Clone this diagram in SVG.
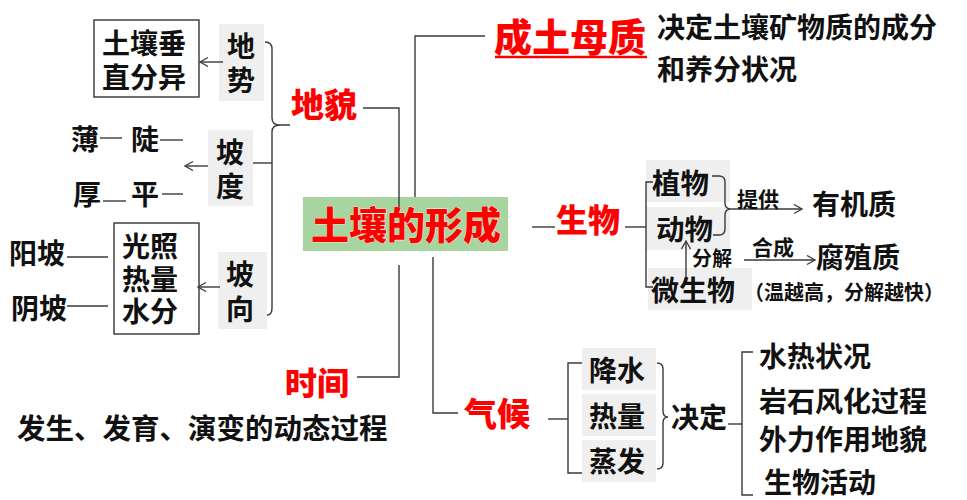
<svg xmlns="http://www.w3.org/2000/svg" width="967" height="500" viewBox="0 0 967 500">
<style>
text{font-family:"Noto Sans CJK SC","Noto Sans CJK JP",sans-serif;font-weight:700;fill:#111}
.r{fill:#ff0000;font-weight:900;stroke:#fff;stroke-width:0.6;paint-order:stroke}
.g{fill:#efefef}
.b{fill:#fff;stroke:#333;stroke-width:1.4}
.c path{fill:none;stroke:#3a3a3a;stroke-width:1.4}
.a{marker-end:url(#arr)}
</style>
<defs>
<marker id="arr" markerUnits="userSpaceOnUse" markerWidth="12" markerHeight="12" refX="9" refY="5" orient="auto">
<path d="M1,0.5 L9,5 L1,9.5" fill="none" stroke="#3a3a3a" stroke-width="1.3"/>
</marker>
</defs>
<rect width="967" height="500" fill="#fff"/>

<g id="root">
<rect x="303" y="197" width="205" height="54" fill="#a8d4a0"/>
<text class="r" x="311" y="239" font-size="38">土壤的形成</text>
</g>

<g id="chengtumuzhi">
<text class="r" x="494" y="51" font-size="38">成土母质</text>
<line x1="495" y1="57" x2="647" y2="57" stroke="#ff0000" stroke-width="2.5"/>
<text x="657" y="38.4" font-size="28">决定土壤矿物质的成分<tspan x="657" dy="42">和养分状况</tspan></text>
</g>

<g id="dimao">
<text class="r" x="291" y="117" font-size="33">地貌</text>
</g>
<g id="dishi">
<rect class="g" x="219" y="24" width="45" height="77"/>
<text x="227" y="57.4" font-size="28">地<tspan x="227" dy="34">势</tspan></text>
</g>
<g id="chuizhi">
<rect class="b" x="94" y="20" width="105" height="77"/>
<text x="102" y="54.4" font-size="28">土壤垂<tspan x="102" dy="34">直分异</tspan></text>
</g>
<g id="podu">
<rect class="g" x="208" y="130" width="45" height="76"/>
<text x="216" y="163.4" font-size="28">坡<tspan x="216" dy="34">度</tspan></text>
</g>
<g id="podu-items">
<text x="71" y="150.4" font-size="28">薄</text>
<text x="131" y="150.4" font-size="28">陡</text>
<text x="73" y="205.4" font-size="28">厚</text>
<text x="131" y="205.4" font-size="28">平</text>
</g>
<g id="poxiang">
<rect class="g" x="218" y="252" width="49" height="77"/>
<text x="226" y="285.4" font-size="28">坡<tspan x="226" dy="35">向</tspan></text>
</g>
<g id="guangzhao">
<rect class="b" x="114" y="223" width="85" height="111"/>
<text x="122" y="257.4" font-size="28">光照<tspan x="122" dy="33">热量</tspan><tspan x="122" dy="32">水分</tspan></text>
</g>
<g id="yangpo"><text x="9" y="264.4" font-size="28">阳坡</text></g>
<g id="yinpo"><text x="11" y="319.4" font-size="28">阴坡</text></g>

<g id="shijian">
<text class="r" x="285" y="394.8" font-size="32">时间</text>
<text x="17" y="438.5" font-size="28.5">发生、发育、演变的动态过程</text>
</g>

<g id="shengwu">
<text class="r" x="556" y="231.8" font-size="32">生物</text>
</g>
<g id="zhiwu">
<rect class="g" x="646" y="160" width="84" height="42"/>
<text x="652" y="193.5" font-size="28.5">植物</text>
</g>
<g id="dongwu">
<rect class="g" x="646" y="207" width="84" height="43"/>
<text x="656" y="239.5" font-size="28.5">动物</text>
</g>
<g id="weishengwu">
<rect class="g" x="648" y="268" width="104" height="42"/>
<text x="651" y="301.4" font-size="28">微生物</text>
</g>
<g id="youjizhi"><text x="812" y="215.4" font-size="28">有机质</text></g>
<g id="fuzhizhi">
<text x="816" y="268.4" font-size="28">腐殖质</text>
<text x="744" y="300" font-size="20">（温越高，分解越快）</text>
</g>

<g id="qihou">
<text class="r" x="464" y="426" font-size="33">气候</text>
</g>
<g id="jiangshui">
<rect class="g" x="582" y="348" width="74" height="42"/>
<text x="589" y="381.4" font-size="28">降水</text>
</g>
<g id="reliang">
<rect class="g" x="582" y="394" width="74" height="42"/>
<text x="589" y="427.4" font-size="28">热量</text>
</g>
<g id="zhengfa">
<rect class="g" x="582" y="440" width="74" height="42"/>
<text x="589" y="472.4" font-size="28">蒸发</text>
</g>
<g id="jueding"><text x="671" y="428.4" font-size="28">决定</text></g>
<g id="effects">
<text x="759" y="367.4" font-size="28">水热状况</text>
<text x="759" y="412.4" font-size="28">岩石风化过程</text>
<text x="759" y="450.4" font-size="28">外力作用地貌</text>
<text x="764" y="493.4" font-size="28">生物活动</text>
</g>

<g id="connectors" class="c">
<path d="M485,36 H415 V197"/>
<path d="M363,108 H399 V207"/>
<path d="M357,377 H399 V265"/>
<path d="M433,257 V413 H458"/>
<path d="M532,227 H555"/>
<path d="M625,227 H646"/>
<path d="M653,182 H646 V287 H653"/>
<path d="M712,176 H719 Q725,176 725,182 V203 Q725,209 731,209 Q725,209 725,215 V229 Q725,235 719,235 H713"/>
<path class="a" d="M731,209 H802"/>
<path class="a" d="M686,277 V241"/>
<path class="a" d="M744,260 H815"/>
<path class="a" d="M223,62 H200"/>
<path class="a" d="M208,166 H185"/>
<path class="a" d="M220,287 H198"/>
<path d="M253,163 H272"/>
<path d="M265,42 Q272,42 272,49 V118 Q272,125 280,125 H290 M280,125 Q272,125 272,132 V308 Q272,315 267,315"/>
<path d="M100,138 H122"/>
<path d="M160,140 H183"/>
<path d="M103,201 H126"/>
<path d="M162,194 H183"/>
<path d="M67,257 H108"/>
<path d="M67,306 H108"/>
<path d="M548,419 H568"/>
<path d="M582,363 H568 V473 H582"/>
<path d="M657,363 Q663,363 663,369 V411 Q663,417 668,417 Q663,417 663,423 V463 Q663,469 657,469"/>
<path d="M728,424 H742"/>
<path d="M753,352 H742 V495 H753"/>
<text x="737" y="206.8" font-size="21" stroke="none" fill="#111">提供</text>
<text x="692" y="266.4" font-size="20" stroke="none" fill="#111">分解</text>
<text x="752" y="254.8" font-size="21" stroke="none" fill="#111">合成</text>
</g>
</svg>
